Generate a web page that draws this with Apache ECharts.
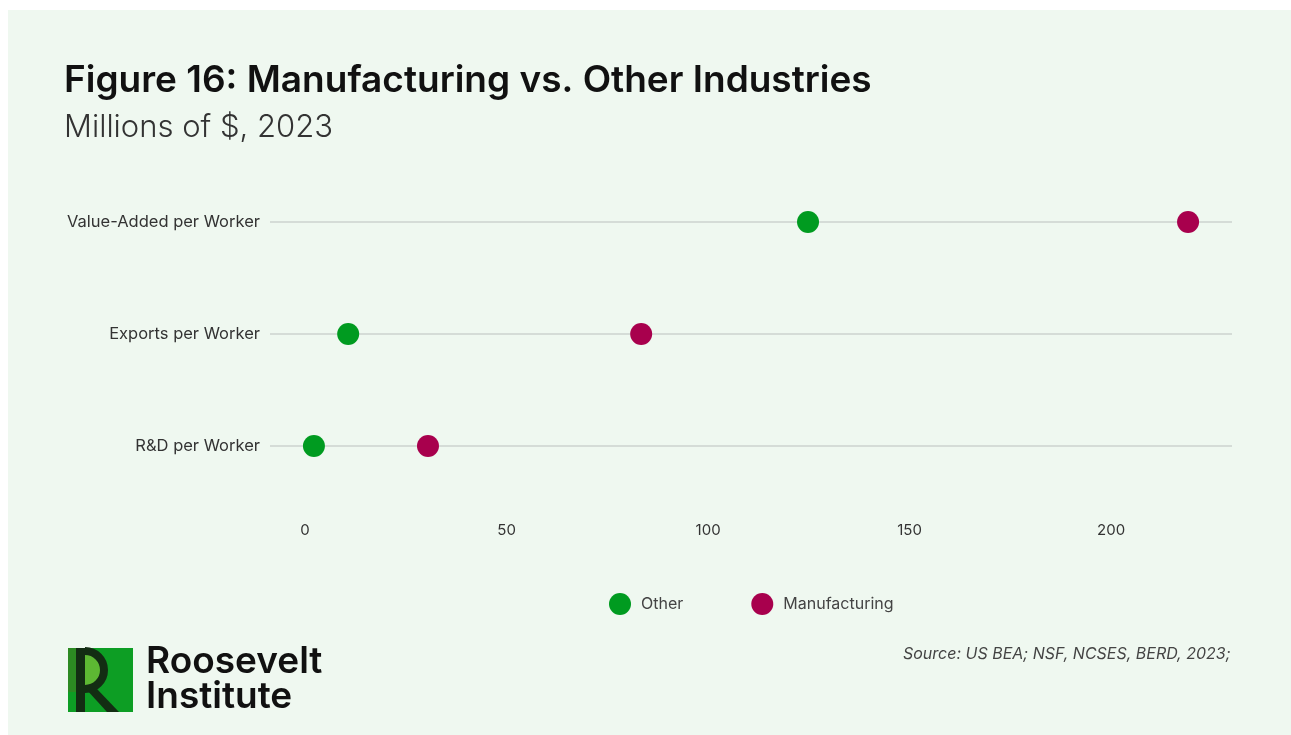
<!DOCTYPE html>
<html>
<head>
<meta charset="utf-8">
<script src="https://cdn.jsdelivr.net/npm/echarts@6/dist/echarts.min.js"></script>
<style>
  html, body { margin: 0; padding: 0; background: #fff; }
  #chart { width: 1291px; height: 735px; }
</style>
</head>
<body>
<div id="chart"></div>
<script>
// categories top to bottom
const categories = ["Value-Added per Worker", "Exports per Worker", "R&D per Worker"];
const otherValues = [124.8, 10.7, 2.2];
const manufacturingValues = [219.1, 83.4, 30.5];
const tickValues = [0, 50, 100, 150, 200];

const GREEN = "#009b20";
const MAGENTA = "#a8004d";
const FONT = "Inter, 'Open Sans', sans-serif";
const DARK = "#132d13";

const chart = echarts.init(document.getElementById("chart"));

const toPoints = (vals) => vals.map((v, i) => [v, categories[i]]);

const options = {
  backgroundColor: "#ffffff",
  animation: false,
  textStyle: { fontFamily: FONT },
  graphic: [
    // panel
    { type: "rect", shape: { x: 8, y: 10, width: 1283, height: 725 }, style: { fill: "#eff8f0" }, z: -10 },
    // title + subtitle
    { type: "text", left: 64, top: 62, style: { text: "Figure 16: Manufacturing vs. Other Industries", font: "600 37px " + FONT, fill: "#111" } },
    { type: "text", left: 64, top: 112, style: { text: "Millions of $, 2023", font: "300 31px " + FONT, fill: "#333" } },
    // source
    { type: "text", left: 903, top: 646, style: { text: "Source: US BEA; NSF, NCSES, BERD, 2023;", font: "italic 16px " + FONT, fill: "#444" } },
    // logo
    { type: "rect", shape: { x: 68, y: 648, width: 65, height: 64 }, style: { fill: "#0d9e24" } },
    { type: "rect", shape: { x: 68, y: 648, width: 8, height: 44 }, style: { fill: "#2c8a22" } },
    { type: "sector", shape: { cx: 85, cy: 670, r: 16, startAngle: -Math.PI / 2, endAngle: Math.PI / 2 }, style: { fill: "#5db833" } },
    { type: "rect", shape: { x: 76, y: 648, width: 9, height: 64 }, style: { fill: DARK } },
    { type: "arc", shape: { cx: 85, cy: 670, r: 19, startAngle: -Math.PI / 2, endAngle: Math.PI / 2 }, style: { stroke: DARK, lineWidth: 8, fill: null } },
    { type: "polygon", shape: { points: [[86, 689], [97, 689], [119, 712], [107, 712]] }, style: { fill: DARK } },
    { type: "text", left: 146, top: 643, style: { text: "Roosevelt", font: "600 37px " + FONT, fill: "#111" } },
    { type: "text", left: 146, top: 678, style: { text: "Institute", font: "600 37px " + FONT, fill: "#111" } }
  ],
  legend: {
    left: 604,
    top: 588,
    icon: "circle",
    itemWidth: 22,
    itemHeight: 22,
    itemGap: 68,
    textStyle: { fontSize: 16, color: "#444", fontFamily: FONT, padding: [0, 0, 0, 5] },
    data: ["Other", "Manufacturing"]
  },
  grid: { left: 270, right: 59, top: 222, bottom: 735 - 446 },
  xAxis: {
    type: "value",
    min: -8.7,
    max: 230,
    axisLine: { show: false },
    axisTick: { show: false },
    splitLine: { show: false },
    axisLabel: {
      customValues: tickValues,
      margin: 77,
      fontSize: 15,
      color: "#333",
      fontFamily: FONT
    }
  },
  yAxis: {
    type: "category",
    data: categories,
    inverse: true,
    boundaryGap: false,
    axisLine: { show: false },
    axisTick: { show: false },
    axisLabel: { margin: 10, fontSize: 16.5, color: "#333", fontFamily: FONT },
    splitLine: { show: true, lineStyle: { color: "#cdd3cf", width: 1.5 } }
  },
  series: [
    {
      name: "Other",
      type: "scatter",
      symbolSize: 22,
      itemStyle: { color: GREEN, opacity: 1 },
      data: toPoints(otherValues),
      z: 3
    },
    {
      name: "Manufacturing",
      type: "scatter",
      symbolSize: 22,
      itemStyle: { color: MAGENTA, opacity: 1 },
      data: toPoints(manufacturingValues),
      z: 3
    }
  ]
};

chart.setOption(options);
</script>
</body>
</html>
